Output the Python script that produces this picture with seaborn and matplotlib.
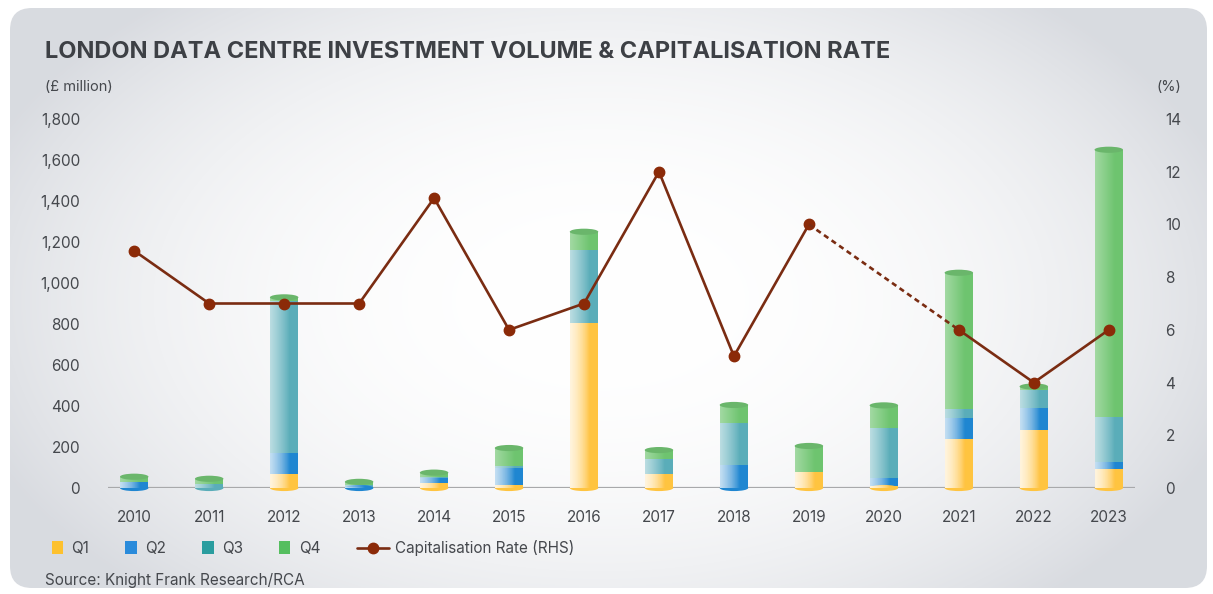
import numpy as np
import pandas as pd
import matplotlib
matplotlib.use("Agg")
import matplotlib.pyplot as plt
from matplotlib.patches import FancyBboxPatch, Patch, Ellipse
from matplotlib.lines import Line2D
import matplotlib.colors as mcolors
import seaborn as sns

years = [str(y) for y in range(2010, 2024)]
q1 = [0, 0, 70, 0, 25, 15, 805, 70, 0, 80, 8, 240, 285, 95]
q2 = [30, 0, 100, 5, 25, 85, 0, 0, 110, 0, 40, 100, 105, 30]
q3 = [0, 20, 740, 10, 5, 5, 355, 70, 205, 0, 245, 45, 90, 220]
q4 = [25, 25, 20, 15, 20, 90, 90, 45, 90, 125, 110, 665, 15, 1305]
cap_rate = [9, 7, 7, 7, 11, 6, 7, 12, 5, 10, np.nan, 6, 4, 6]

bar_colors = ["#FFC440", "#1F86D1", "#5AADB9", "#6EC46F"]
legend_colors = ["#FDC12E", "#2A8BDB", "#2A9D9F", "#55BE5F"]
line_color = "#7A2C12"
text_color = "#45484d"
BAR_W = 0.38

df = pd.DataFrame({"year": years, "Q1": q1, "Q2": q2, "Q3": q3, "Q4": q4})
df["c1"] = df["Q1"]
df["c2"] = df["c1"] + df["Q2"]
df["c3"] = df["c2"] + df["Q3"]
df["c4"] = df["c3"] + df["Q4"]

sns.set_theme(style="white")
plt.rcParams["font.family"] = ["Inter", "DejaVu Sans"]

W, H = 1213, 594
fig = plt.figure(figsize=(W / 100, H / 100), dpi=100)

# soft grey panel with light centre
bg = fig.add_axes([0, 0, 1, 1])
bg.set_xlim(0, W)
bg.set_ylim(H, 0)
bg.axis("off")
yy, xx = np.mgrid[0:H, 0:W]
d = np.sqrt(((xx - 600) / 660.0) ** 2 + ((yy - 300) / 400.0) ** 2)
t = np.clip(d, 0, 1) ** 2.4
edge = np.array([0.85, 0.86, 0.88])
rgb = (1 - t)[..., None] * np.array([1.0, 1.0, 1.0]) + t[..., None] * edge
panel = FancyBboxPatch((10, 8), W - 16, H - 14,
                       boxstyle="round,pad=0,rounding_size=22",
                       facecolor="none", edgecolor="none")
bg.add_patch(panel)
im = bg.imshow(rgb, extent=[0, W, H, 0], aspect="auto", zorder=0)
im.set_clip_path(panel)

ax = fig.add_axes([108 / W, 1 - 488 / H, (1135 - 108) / W, (488 - 119) / H])
ax.patch.set_alpha(0)

layers = ["c4", "c3", "c2", "c1"]
for col, c in zip(layers, bar_colors[::-1]):
    sns.barplot(data=df, x="year", y=col, color=c, width=BAR_W,
                saturation=1, linewidth=0, edgecolor="none", ax=ax, zorder=2)

ax.set_xlim(-0.35, 13.35)
ax.set_ylim(0, 1800)

# cylinder shading on each bar
grad = np.linspace(0, 1, 64)
shade = np.zeros((1, 64, 4))
shade[0, :, :3] = 1.0
shade[0, :, 3] = np.clip(0.36 * (1 - grad / 0.7), 0, None)
for p in list(ax.patches):
    if p.get_height() <= 0:
        continue
    x0, w = p.get_x(), p.get_width()
    y0, h = p.get_y(), p.get_height()
    g = ax.imshow(shade, extent=[x0, x0 + w, y0, y0 + h], aspect="auto",
                  zorder=2.5, interpolation="bilinear")
    g.set_clip_path(p)

# elliptical caps: top in top-segment colour, bottom in bottom-segment colour
cap_h = 30
seg = np.array([q1, q2, q3, q4], dtype=float)
totals = df["c4"].to_numpy()
for i in range(len(years)):
    nz = np.nonzero(seg[:, i])[0]
    top_c = mcolors.to_rgb(bar_colors[nz[-1]])
    top_c = tuple(0.88 * v + 0.12 * 0.3 for v in top_c)
    bot_c = bar_colors[nz[0]]
    ax.add_patch(Ellipse((i, 0), BAR_W, cap_h, facecolor=bot_c,
                         edgecolor="none", zorder=2.2, clip_on=False))
    ax.add_patch(Ellipse((i, totals[i]), BAR_W, cap_h, facecolor=top_c,
                         edgecolor="none", zorder=2.6, clip_on=False))

ax.set_xlim(-0.35, 13.35)
ax.set_ylim(0, 1800)
ax.set_yticks(range(0, 1801, 200))
ax.set_yticklabels([f"{v:,}" for v in range(0, 1801, 200)])
ax.axhline(0, color="#a8a9ab", lw=1.6, zorder=1)
ax.set_xlabel("")
ax.set_ylabel("")
for s in ax.spines.values():
    s.set_visible(False)
ax.tick_params(axis="y", length=0, pad=20, labelsize=11, labelcolor=text_color)
ax.tick_params(axis="x", length=0, pad=16, labelsize=11, labelcolor=text_color)
ax.grid(False)

ax2 = ax.twinx()
ax2.patch.set_alpha(0)
x = np.arange(len(years))
rate = np.array(cap_rate, dtype=float)
ax2.plot(x, rate, color=line_color, lw=1.9, marker="o", ms=7.5,
         markerfacecolor="#8B2A08", markeredgecolor="#8B2A08", zorder=5)
# dashed bridge across missing years
valid = np.where(~np.isnan(rate))[0]
for a, b in zip(valid[:-1], valid[1:]):
    if b - a > 1:
        ax2.plot([x[a], x[b]], [rate[a], rate[b]], color=line_color, lw=1.9,
                 ls=(0, (2, 1.5)), zorder=5)
ax2.set_ylim(0, 14)
ax2.set_yticks(range(0, 15, 2))
for s in ax2.spines.values():
    s.set_visible(False)
ax2.tick_params(axis="y", length=0, pad=22, labelsize=11, labelcolor=text_color)
ax2.grid(False)

fig.text(45 / W, 1 - 52 / H, "LONDON DATA CENTRE INVESTMENT VOLUME & CAPITALISATION RATE",
         fontsize=17, fontweight="bold", color="#3d4045", va="center", ha="left")
fig.text(45 / W, 1 - 87 / H, "(£ million)", fontsize=10.5, color=text_color,
         va="center", ha="left")
fig.text(1157 / W, 1 - 87 / H, "(%)", fontsize=10.5, color=text_color,
         va="center", ha="left")
fig.text(45 / W, 1 - 580 / H, "Source: Knight Frank Research/RCA", fontsize=11,
         color=text_color, va="center", ha="left")

handles = [Patch(facecolor=c, edgecolor="none") for c in legend_colors]
fig.legend(handles, ["Q1", "Q2", "Q3", "Q4"], loc="center left",
           bbox_to_anchor=(38 / W, 1 - 548 / H), ncol=4, frameon=False,
           fontsize=11, handlelength=0.75, handleheight=0.9,
           handletextpad=0.55, columnspacing=2.35, labelcolor=text_color)
line_h = Line2D([], [], color=line_color, lw=1.9, marker="o", ms=7.5,
                markerfacecolor="#8B2A08", markeredgecolor="#8B2A08")
fig.legend([line_h], ["Capitalisation Rate (RHS)"], loc="center left",
           bbox_to_anchor=(343 / W, 1 - 548 / H), frameon=False,
           fontsize=11, handlelength=2.1, handletextpad=0.4,
           labelcolor=text_color)

fig.savefig("out.png", dpi=100)
